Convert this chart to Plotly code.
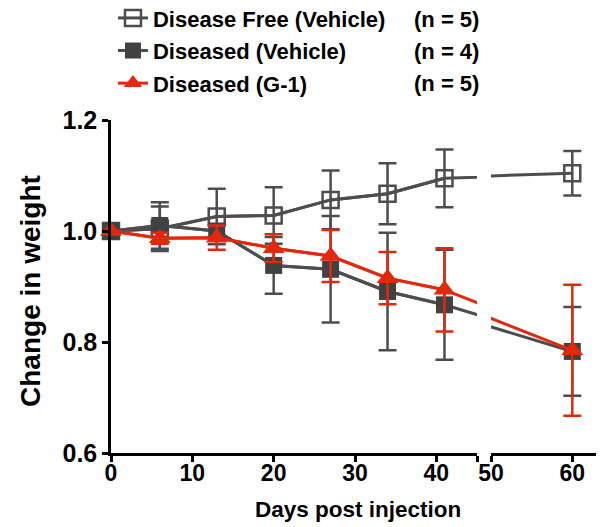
import plotly.graph_objects as go

days = [0, 6, 13, 20, 27, 34, 41, 60]
free_mean = [1.0, 1.004, 1.026, 1.028, 1.056, 1.067, 1.095, 1.104]
free_err = [0, 0.040, 0.05, 0.051, 0.053, 0.055, 0.052, 0.04]
veh_mean = [1.0, 1.010, 1.0, 0.938, 0.931, 0.891, 0.867, 0.783]
veh_err = [0, 0.042, 0.01, 0.051, 0.096, 0.106, 0.099, 0.08]
g1_mean = [1.0, 0.987, 0.988, 0.969, 0.955, 0.915, 0.894, 0.785]
g1_err = [0, 0.010, 0.022, 0.025, 0.047, 0.047, 0.075, 0.118]

names = ["Disease Free (Vehicle)", "Diseased (Vehicle)", "Diseased (G-1)"]
n_labels = ["(n = 5)", "(n = 4)", "(n = 5)"]
x_ticks_left = [0, 10, 20, 30, 40]
x_ticks_right = [50, 60]
y_ticks = [0.6, 0.8, 1.0, 1.2]

BREAK_LO, BREAK_HI, X_MAX = 45, 50, 63.9

GRAY = "#4d4d4d"
DARK = "#414141"
RED = "#e3290d"
FONT = "Liberation Sans, Arial, sans-serif"

series = [
    dict(name=names[0], y=free_mean, e=free_err, color=GRAY,
         marker=dict(symbol="square-open", size=16, color=GRAY, line=dict(width=2.5, color=GRAY))),
    dict(name=names[1], y=veh_mean, e=veh_err, color=GRAY,
         marker=dict(symbol="square", size=17, color=DARK, line=dict(width=0))),
    dict(name=names[2], y=g1_mean, e=g1_err, color=RED,
         marker=dict(symbol="triangle-up", size=19, color=RED, line=dict(width=0))),
]

fig = go.Figure()
for i, s in enumerate(series):
    for xa in ("x", "x2"):
        fig.add_trace(go.Scatter(x=days, y=s["y"], mode="lines", xaxis=xa, yaxis="y",
                                 line=dict(color=s["color"], width=3), showlegend=False,
                                 legendgroup=s["name"], hoverinfo="skip"))
    left = [k for k, d in enumerate(days) if d <= BREAK_LO]
    right = [k for k, d in enumerate(days) if d >= BREAK_HI]
    for xa, idx, leg in (("x", left, True), ("x2", right, False)):
        fig.add_trace(go.Scatter(
            x=[days[k] for k in idx], y=[s["y"][k] for k in idx],
            mode="lines+markers" if leg else "markers", xaxis=xa, yaxis="y",
            name=s["name"], legendgroup=s["name"], showlegend=leg,
            line=dict(color=s["color"], width=3),
            marker=s["marker"], cliponaxis=False,
            error_y=dict(type="data", array=[s["e"][k] for k in idx], visible=True,
                         color=s["color"], thickness=2.5, width=9),
        ))

axis_common = dict(showline=True, linecolor="black", linewidth=2.5, ticks="outside",
                   ticklen=6, tickwidth=2.5, tickcolor="black", showgrid=False, zeroline=False)
xfont = dict(family=FONT, size=23, color="black", weight="bold")
yfont = dict(family=FONT, size=25, color="black", weight="bold")

fig.update_layout(
    width=596, height=519, autosize=False,
    margin=dict(l=103, r=0, t=112, b=74, autoexpand=False),
    plot_bgcolor="white", paper_bgcolor="white",
    xaxis=dict(domain=[0, 0.7424], range=[0, BREAK_LO], anchor="y",
               tickvals=x_ticks_left + [BREAK_LO], ticklabelstandoff=-8,
               ticktext=[str(v) for v in x_ticks_left] + [""], tickfont=xfont, **axis_common),
    xaxis2=dict(domain=[0.7708, 1], range=[BREAK_HI, X_MAX], anchor="y", ticklabelstandoff=-8,
                tickvals=x_ticks_right, ticktext=[str(v) for v in x_ticks_right],
                tickfont=xfont, **axis_common),
    yaxis=dict(range=[0.6, 1.2], anchor="x", tickvals=y_ticks, tickformat=".1f",
               tickfont=yfont, **axis_common),
    legend=dict(x=0.004, y=1.369, xanchor="left", yanchor="top", traceorder="grouped",
                tracegroupgap=1, bgcolor="rgba(0,0,0,0)",
                font=dict(family=FONT, size=22, color="black", weight="bold")),
    showlegend=True,
)

annos = [
    dict(text="Days post injection", x=0.501, y=-0.171, xref="paper", yref="paper",
         xanchor="center", yanchor="middle", showarrow=False,
         font=dict(family=FONT, size=22.5, color="black", weight="bold")),
    dict(text="Change in weight", x=-0.162, y=0.487, xref="paper", yref="paper", textangle=-90,
         xanchor="center", yanchor="middle", showarrow=False,
         font=dict(family=FONT, size=28, color="black", weight="bold")),
]
for lbl, yy in zip(n_labels, [1.303, 1.207, 1.111]):
    annos.append(dict(text=lbl, x=0.6105, y=yy, xref="paper", yref="paper", xanchor="left",
                      yanchor="middle", showarrow=False,
                      font=dict(family=FONT, size=22, color="black", weight="bold")))
fig.update_layout(annotations=annos)

fig.write_html("out.html")
